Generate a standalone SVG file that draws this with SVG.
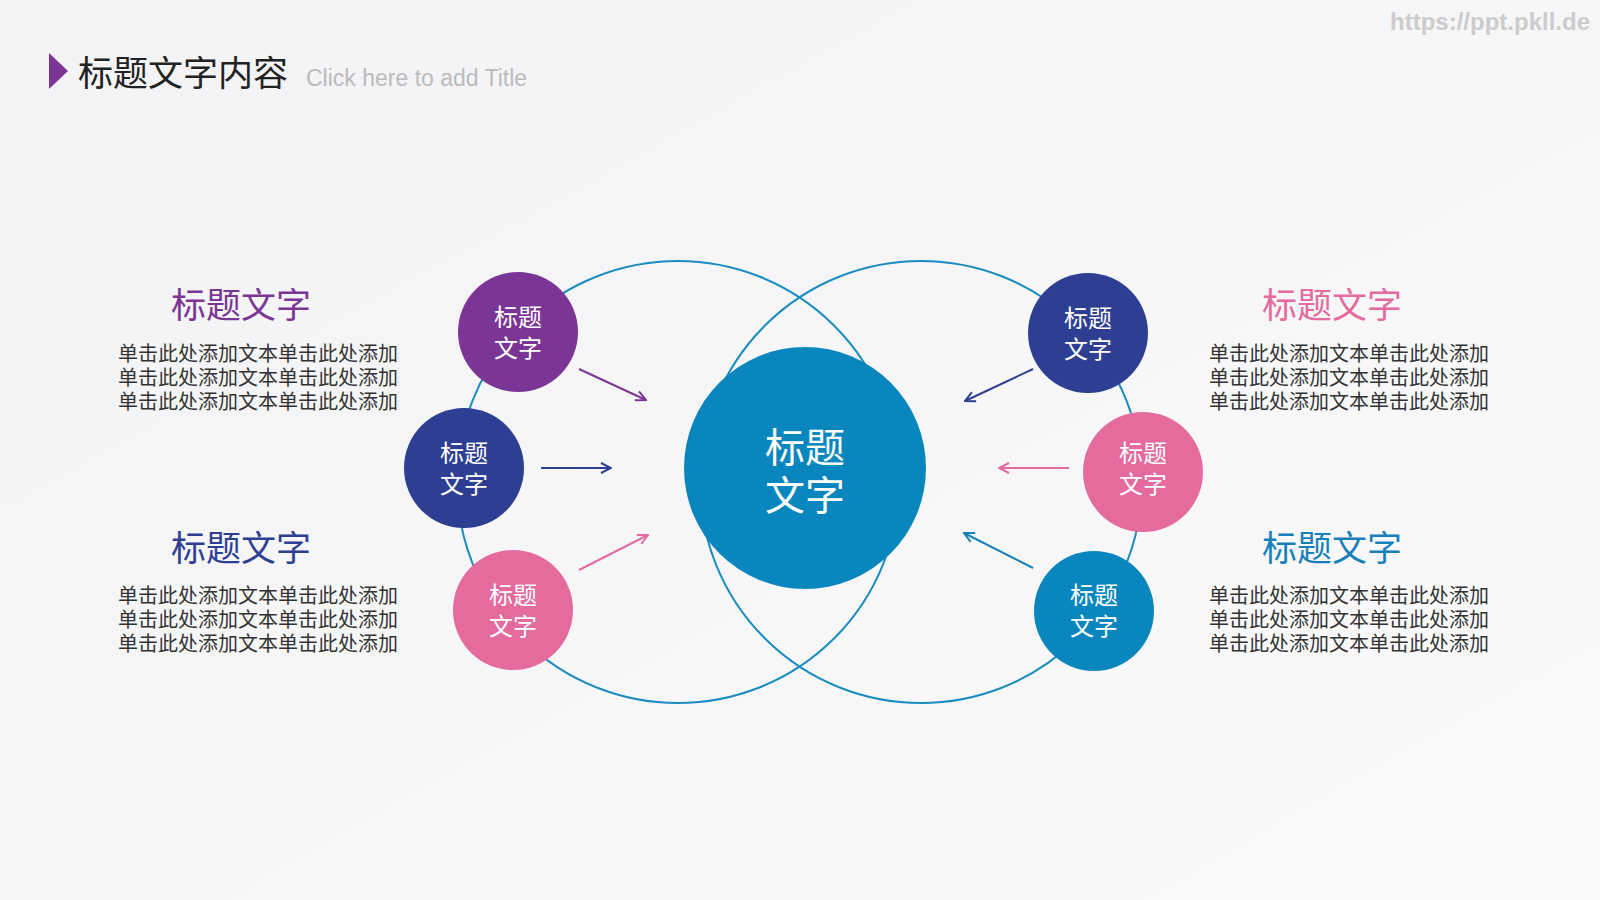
<svg xmlns="http://www.w3.org/2000/svg" width="1600" height="900" viewBox="0 0 1600 900">
<defs>
<linearGradient id="bg" x1="0" y1="0" x2="1" y2="1"><stop offset="0" stop-color="#f3f3f5"/><stop offset="1" stop-color="#fafafb"/></linearGradient>
<marker id="mp" markerWidth="12" markerHeight="12" refX="11" refY="6" orient="auto" markerUnits="userSpaceOnUse"><path d="M1,1 L11,6 L1,11" fill="none" stroke="#7B3594" stroke-width="2"/></marker>
<marker id="mb" markerWidth="12" markerHeight="12" refX="11" refY="6" orient="auto" markerUnits="userSpaceOnUse"><path d="M1,1 L11,6 L1,11" fill="none" stroke="#2E3F93" stroke-width="2"/></marker>
<marker id="mk" markerWidth="12" markerHeight="12" refX="11" refY="6" orient="auto" markerUnits="userSpaceOnUse"><path d="M1,1 L11,6 L1,11" fill="none" stroke="#E56A9E" stroke-width="2"/></marker>
<marker id="mt" markerWidth="12" markerHeight="12" refX="11" refY="6" orient="auto" markerUnits="userSpaceOnUse"><path d="M1,1 L11,6 L1,11" fill="none" stroke="#1880B8" stroke-width="2"/></marker>
</defs>
<style>
text{font-family:"Noto Sans CJK SC","Liberation Sans",sans-serif}
.ring{fill:none;stroke:#1a8cc0;stroke-width:2}
.ct{fill:#fff;font-size:24px;text-anchor:middle}
.big{font-size:40px}
.h{font-size:35px;text-anchor:middle}
.b{font-size:20px;fill:#333}
.ar{stroke-width:2;fill:none}
</style>
<rect width="1600" height="900" fill="url(#bg)"/>
<polygon points="49,53 68,71 49,89" fill="#7B3594"/>
<text x="78" y="86" font-size="35" fill="#222">标题文字内容</text>
<text x="306" y="86" font-size="23" fill="#bbb" style="font-family:'Liberation Sans',sans-serif">Click here to add Title</text>
<text x="1590" y="30" font-size="24" fill="#ccc" text-anchor="end" font-weight="bold" style="font-family:'Liberation Sans',sans-serif">https://ppt.pkll.de</text>
<g id="rings"><circle class="ring" cx="678" cy="482" r="221"/><circle class="ring" cx="921" cy="482" r="221"/></g>
<g id="connectors">
<line class="ar" x1="579" y1="369" x2="646" y2="400" stroke="#7B3594" marker-end="url(#mp)"/>
<line class="ar" x1="541" y1="468" x2="611" y2="468" stroke="#2E3F93" marker-end="url(#mb)"/>
<line class="ar" x1="579" y1="570" x2="648" y2="535" stroke="#E56A9E" marker-end="url(#mk)"/>
<line class="ar" x1="1033" y1="369" x2="965" y2="401" stroke="#2E3F93" marker-end="url(#mb)"/>
<line class="ar" x1="1069" y1="468" x2="999" y2="468" stroke="#E56A9E" marker-end="url(#mk)"/>
<line class="ar" x1="1033" y1="568" x2="964" y2="533" stroke="#1880B8" marker-end="url(#mt)"/>
</g>
<g id="center"><circle cx="805" cy="468" r="121" fill="#0A86BE"/><text class="ct big" x="805" y="462">标题</text><text class="ct big" x="805" y="510">文字</text></g>
<g id="n1"><circle cx="518" cy="332" r="60" fill="#7B3594"/><text class="ct" x="518" y="326">标题</text><text class="ct" x="518" y="357">文字</text></g>
<g id="n2"><circle cx="464" cy="468" r="60" fill="#2E3F93"/><text class="ct" x="464" y="462">标题</text><text class="ct" x="464" y="493">文字</text></g>
<g id="n3"><circle cx="513" cy="610" r="60" fill="#E56A9E"/><text class="ct" x="513" y="604">标题</text><text class="ct" x="513" y="635">文字</text></g>
<g id="n4"><circle cx="1088" cy="333" r="60" fill="#2E3F93"/><text class="ct" x="1088" y="327">标题</text><text class="ct" x="1088" y="358">文字</text></g>
<g id="n5"><circle cx="1143" cy="472" r="60" fill="#E56A9E"/><text class="ct" x="1143" y="462">标题</text><text class="ct" x="1143" y="493">文字</text></g>
<g id="n6"><circle cx="1094" cy="611" r="60" fill="#0A86BE"/><text class="ct" x="1094" y="604">标题</text><text class="ct" x="1094" y="635">文字</text></g>
<g id="t1"><text class="h" x="241" y="318" fill="#7B3594">标题文字</text><text class="b" x="118" y="361">单击此处添加文本单击此处添加</text><text class="b" x="118" y="385">单击此处添加文本单击此处添加</text><text class="b" x="118" y="409">单击此处添加文本单击此处添加</text></g>
<g id="t2"><text class="h" x="241" y="561" fill="#2E3F93">标题文字</text><text class="b" x="118" y="603">单击此处添加文本单击此处添加</text><text class="b" x="118" y="627">单击此处添加文本单击此处添加</text><text class="b" x="118" y="651">单击此处添加文本单击此处添加</text></g>
<g id="t3"><text class="h" x="1332" y="318" fill="#E56A9E">标题文字</text><text class="b" x="1209" y="361">单击此处添加文本单击此处添加</text><text class="b" x="1209" y="385">单击此处添加文本单击此处添加</text><text class="b" x="1209" y="409">单击此处添加文本单击此处添加</text></g>
<g id="t4"><text class="h" x="1332" y="561" fill="#1880B8">标题文字</text><text class="b" x="1209" y="603">单击此处添加文本单击此处添加</text><text class="b" x="1209" y="627">单击此处添加文本单击此处添加</text><text class="b" x="1209" y="651">单击此处添加文本单击此处添加</text></g>
</svg>
